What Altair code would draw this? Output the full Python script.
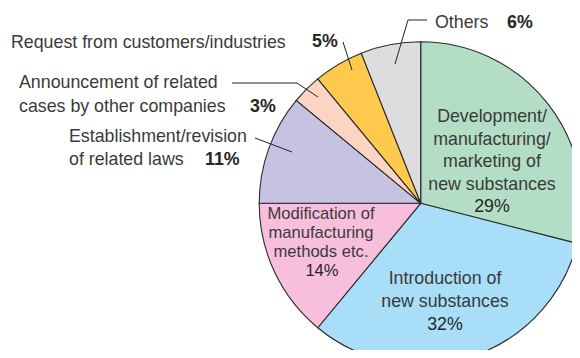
import altair as alt
import pandas as pd

categories = [
    "Development/manufacturing/marketing of new substances",
    "Introduction of new substances",
    "Modification of manufacturing methods etc.",
    "Establishment/revision of related laws",
    "Announcement of related cases by other companies",
    "Request from customers/industries",
    "Others",
]
shares = [29, 32, 14, 11, 3, 5, 6]
slice_colors = ["#b3dec5", "#a9def9", "#f8bfdc", "#c6c3e2", "#fbd4c4", "#fec94c", "#dddddf"]

df = pd.DataFrame({"category": categories, "share": shares, "order": list(range(len(shares)))})

OX, OY = 8, 8          # page margin
CX, CY, R = 420.7 - OX, 203.3 - OY, 161.5
FONT = "Liberation Sans"
FS = 17.8
LABEL = "#3a3a3a"
PCT = "#262626"
one = pd.DataFrame({"k": [0]})

pie = alt.Chart(df).mark_arc(outerRadius=R, stroke="#2a2a2a", strokeWidth=1.1).encode(
    theta=alt.Theta("share:Q", stack=True),
    color=alt.Color("category:N", scale=alt.Scale(domain=categories, range=slice_colors), legend=None),
    order=alt.Order("order:Q"),
    x=alt.value(CX),
    y=alt.value(CY),
)

layers = [pie]


def txt(s, x, y, align="center", color=LABEL, weight="normal", size=FS):
    return alt.Chart(one).mark_text(
        align=align, baseline="middle", font=FONT, fontSize=size, color=color, fontWeight=weight
    ).encode(x=alt.value(x - OX), y=alt.value(y - OY), text=alt.value(s))


def seg(x1, y1, x2, y2):
    return alt.Chart(one).mark_rule(color="#222222", strokeWidth=1).encode(
        x=alt.value(x1 - OX), y=alt.value(y1 - OY), x2=alt.value(x2 - OX), y2=alt.value(y2 - OY)
    )


# inside labels
for s, y in zip(["Development/", "manufacturing/", "marketing of", "new substances"], [117, 139.5, 162, 184.5]):
    layers.append(txt(s, 492, y))
layers.append(txt("29%", 492, 207, color=PCT))

for s, y in zip(["Introduction of", "new substances"], [279, 302]):
    layers.append(txt(s, 445, y))
layers.append(txt("32%", 445, 325, color=PCT))

for s, y in zip(["Modification of", "manufacturing", "methods etc."], [213.5, 233, 251.5]):
    layers.append(txt(s, 321, y, size=16.6))
layers.append(txt("14%", 322, 271, color=PCT, size=16.6))

# outside labels
layers.append(txt("Request from customers/industries", 11, 43, align="left"))
layers.append(txt("5%", 312, 42, align="left", color=PCT, weight="bold"))
layers.append(txt("Announcement of related", 19, 83, align="left"))
layers.append(txt("cases by other companies", 19, 107, align="left"))
layers.append(txt("3%", 250, 107, align="left", color=PCT, weight="bold"))
layers.append(txt("Establishment/revision", 69, 137, align="left"))
layers.append(txt("of related laws", 69, 160, align="left"))
layers.append(txt("11%", 205, 160, align="left", color=PCT, weight="bold"))
layers.append(txt("Others", 435, 23, align="left"))
layers.append(txt("6%", 507, 23, align="left", color=PCT, weight="bold"))

# leader lines
layers += [
    seg(427, 20, 408, 20), seg(408, 20, 395, 64),
    seg(343, 42, 352, 70),
    seg(232, 83, 297, 83), seg(297, 83, 318, 97),
    seg(255, 138, 292, 152),
]

chart = alt.layer(*layers).properties(
    width=564, height=342, autosize=alt.AutoSizeParams(type="none"), padding=0
).configure_view(stroke=None)

chart.save("out.html", embed_options={"renderer": "svg", "actions": False})
